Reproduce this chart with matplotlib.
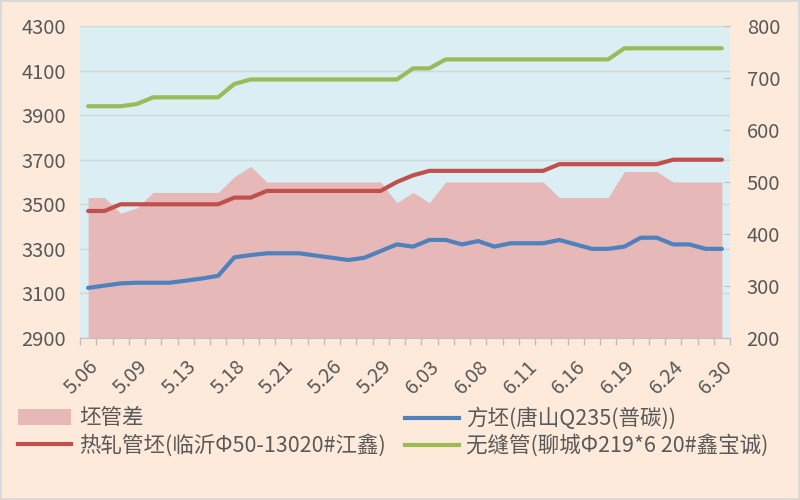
import matplotlib
matplotlib.use("Agg")
import matplotlib.pyplot as plt
from matplotlib.patches import Patch
from matplotlib.lines import Line2D
import numpy as np

plt.rcParams['font.family'] = ['Noto Sans CJK SC', 'DejaVu Sans']

# 日期 (交易日)
dates = ['5.06', '5.07', '5.08', '5.09', '5.11', '5.12', '5.13', '5.14', '5.15', '5.18',
         '5.19', '5.20', '5.21', '5.22', '5.25', '5.26', '5.27', '5.28', '5.29', '6.01',
         '6.02', '6.03', '6.04', '6.05', '6.08', '6.09', '6.10', '6.11', '6.12', '6.15',
         '6.16', '6.17', '6.18', '6.19', '6.22', '6.23', '6.24', '6.28', '6.29', '6.30']

# 坯管差 (右轴)
spread = [470, 470, 440, 450, 480, 480, 480, 480, 480, 510,
          530, 500, 500, 500, 500, 500, 500, 500, 500, 460,
          480, 460, 500, 500, 500, 500, 500, 500, 500, 470,
          470, 470, 470, 520, 520, 520, 500, 500, 500, 500]

# 方坯 (左轴)
billet = [3125, 3135, 3145, 3148, 3148, 3148, 3157, 3167, 3179, 3262,
          3272, 3280, 3280, 3280, 3270, 3260, 3250, 3260, 3290, 3320,
          3310, 3340, 3340, 3320, 3335, 3310, 3325, 3325, 3325, 3340,
          3320, 3300, 3300, 3310, 3350, 3350, 3320, 3320, 3300, 3300]

# 热轧管坯 (左轴)
tube_billet = [3470, 3470, 3500, 3500, 3500, 3500, 3500, 3500, 3500, 3530,
               3530, 3560, 3560, 3560, 3560, 3560, 3560, 3560, 3560, 3600,
               3630, 3650, 3650, 3650, 3650, 3650, 3650, 3650, 3650, 3680,
               3680, 3680, 3680, 3680, 3680, 3680, 3700, 3700, 3700, 3700]

# 无缝管 (左轴)
seamless = [3940, 3940, 3940, 3950, 3980, 3980, 3980, 3980, 3980, 4040,
            4060, 4060, 4060, 4060, 4060, 4060, 4060, 4060, 4060, 4060,
            4110, 4110, 4150, 4150, 4150, 4150, 4150, 4150, 4150, 4150,
            4150, 4150, 4150, 4200, 4200, 4200, 4200, 4200, 4200, 4200]

labels = ['坯管差', '热轧管坯(临沂Φ50-13020#江鑫)', '方坯(唐山Q235(普碳))', '无缝管(聊城Φ219*6 20#鑫宝诚)']

bg = '#FDEADA'
plot_bg = '#DAEEF3'
pink = '#E6B9B8'
red = '#C0504D'
blue = '#4F81BD'
green = '#9BBB59'
txt = '#595959'

x = np.arange(len(dates))

fig = plt.figure(figsize=(8, 5), dpi=100, facecolor=bg)
fig.patch.set_edgecolor('#D9D9D9')
fig.patch.set_linewidth(1.5)
ax = fig.add_axes([0.1, 0.324, 0.8125, 0.624])
ax2 = ax.twinx()
ax.set_facecolor(plot_bg)

ax.set_xlim(-0.5, len(dates) - 0.5)
ax.set_ylim(2900, 4300)
ax2.set_ylim(200, 800)

# 面积图用右轴刻度
ax.fill_between(x, spread, 200, transform=ax2.transData, color=pink, lw=0, zorder=1)
ax.plot(x, billet, color=blue, lw=3, zorder=3, solid_capstyle='round')
ax.plot(x, tube_billet, color=red, lw=3, zorder=3, solid_capstyle='round')
ax.plot(x, seamless, color=green, lw=3, zorder=3, solid_capstyle='round')

ax.set_yticks(np.arange(2900, 4301, 200))
ax2.set_yticks(np.arange(200, 801, 100))
ax.grid(axis='y', color='#D0D8DA', lw=1, zorder=0)
ax.set_axisbelow(True)

ax.set_xticks(x[::3])
ax.set_xticklabels(dates[::3], rotation=45, ha='right', rotation_mode='anchor')
ax.set_xticks(np.arange(-0.5, len(dates), 1), minor=True)
ax.tick_params(axis='x', which='major', length=0, pad=13, labelsize=14.5, labelcolor=txt)
ax.tick_params(axis='x', which='minor', length=5, color='#BFBFBF', width=1)
ax.tick_params(axis='y', length=0, labelsize=14.5, labelcolor=txt, pad=10)
ax2.tick_params(axis='y', length=4, direction='in', color='#BFBFBF', labelsize=14.5,
                labelcolor=txt, pad=12)

for a in (ax, ax2):
    for s in a.spines.values():
        s.set_visible(False)
ax.spines['bottom'].set_visible(True)
ax.spines['bottom'].set_color('#BFBFBF')

h1 = [Patch(facecolor=pink, edgecolor='none'), Line2D([], [], color=red, lw=3)]
h2 = [Line2D([], [], color=blue, lw=3), Line2D([], [], color=green, lw=3)]
leg_kw = dict(loc='upper left', frameon=False, fontsize=15.5, handlelength=2.5,
              handleheight=0.7, handletextpad=0.35, labelspacing=0.2, labelcolor=txt,
              borderaxespad=0, borderpad=0)
fig.legend(h1, labels[:2], bbox_to_anchor=(0.022, 0.185), **leg_kw)
fig.legend(h2, labels[2:], bbox_to_anchor=(0.506, 0.185), **leg_kw)

fig.savefig('out.png', dpi=100, facecolor=fig.get_facecolor(), edgecolor=fig.patch.get_edgecolor())
